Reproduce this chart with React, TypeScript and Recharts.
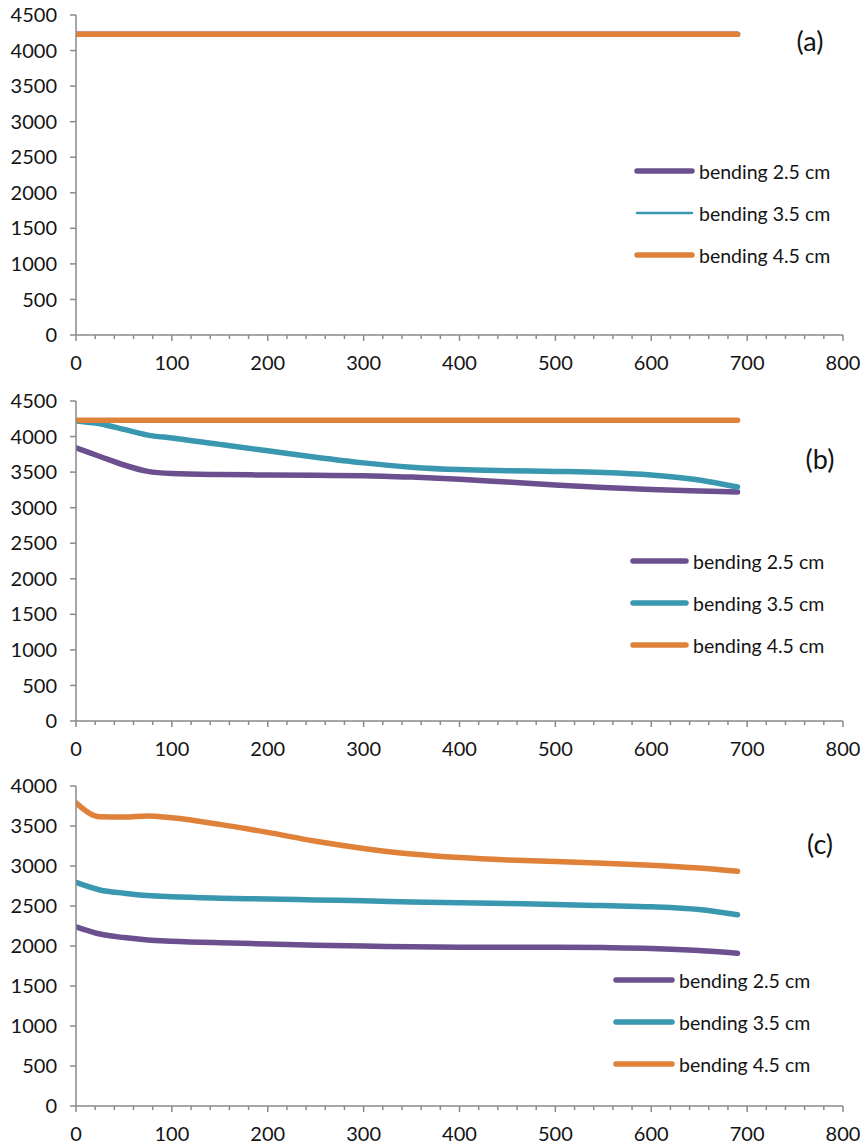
import React from 'react';
import { LineChart, Line, XAxis, YAxis, Legend } from 'recharts';

const FONT = 'Lato, "Liberation Sans", sans-serif';
const AXIS = '#8a8a8a';
const TXT = '#141414';
const PURPLE = '#6b4f8f';
const TEAL = '#3a97b0';
const ORANGE = '#df8139';
const TICK_FS = 20;
const LEG_FS = 19.5;

const seriesNames = ['bending 2.5 cm', 'bending 3.5 cm', 'bending 4.5 cm'];
const seriesColors = [PURPLE, TEAL, ORANGE];

const xTicks = [0, 20, 40, 60, 80, 100, 120, 140, 160, 180, 200, 220, 240, 260, 280, 300, 320, 340, 360, 380, 400, 420, 440, 460, 480, 500, 520, 540, 560, 580, 600, 620, 640, 660, 680, 700, 720, 740, 760, 780, 800];
const yTicksAB = [0, 500, 1000, 1500, 2000, 2500, 3000, 3500, 4000, 4500];
const yTicksC = [0, 500, 1000, 1500, 2000, 2500, 3000, 3500, 4000];

// Panel (a)
const timeA = [0, 100, 200, 300, 400, 500, 600, 690];
const aBend25 = [4230, 4230, 4230, 4230, 4230, 4230, 4230, 4230];
const aBend35 = [4230, 4230, 4230, 4230, 4230, 4230, 4230, 4230];
const aBend45 = [4230, 4230, 4230, 4230, 4230, 4230, 4230, 4230];

// Panels (b) and (c)
const timeBC = [0, 25, 50, 75, 100, 150, 200, 250, 300, 350, 400, 450, 500, 550, 600, 650, 690];
const bBend25 = [3840, 3720, 3600, 3510, 3480, 3465, 3460, 3455, 3450, 3430, 3400, 3360, 3320, 3285, 3255, 3235, 3220];
const bBend35 = [4220, 4180, 4100, 4020, 3980, 3890, 3800, 3710, 3630, 3570, 3535, 3520, 3510, 3495, 3460, 3390, 3290];
const bBend45 = [4230, 4230, 4230, 4230, 4230, 4230, 4230, 4230, 4230, 4230, 4230, 4230, 4230, 4230, 4230, 4230, 4230];

const cBend25 = [2240, 2150, 2105, 2075, 2060, 2040, 2025, 2010, 2000, 1990, 1985, 1985, 1985, 1980, 1970, 1945, 1910];
const cBend35 = [2795, 2700, 2660, 2630, 2615, 2598, 2588, 2575, 2565, 2550, 2540, 2530, 2520, 2505, 2490, 2455, 2390];
const cBend45 = [3790, 3615, 3612, 3625, 3602, 3520, 3420, 3310, 3220, 3150, 3105, 3075, 3055, 3035, 3010, 2975, 2935];

const toPoints = (xs: number[], ys: number[]) => xs.map((x, i) => ({ x, y: ys[i] }));

const XTick = (props: any) => {
  const { x, y, payload } = props;
  const v = payload.value;
  const major = v % 100 === 0;
  return (
    <g>
      <line x1={x} x2={x} y1={y} y2={y + (major ? 6 : 4)} stroke={AXIS} strokeWidth={1.5} />
      {major && (
        <text x={x} y={y + 35} textAnchor="middle" fill={TXT} fontSize={TICK_FS} fontFamily={FONT}>
          {v}
        </text>
      )}
    </g>
  );
};

const makeLegend = (lineLen: number, gap: number, widths: number[]) => (props: any) => {
  const payload = props.payload || [];
  return (
    <div style={{ fontFamily: FONT, fontSize: LEG_FS, color: TXT }}>
      {payload.map((e: any, i: number) => (
        <div key={i} style={{ display: 'flex', alignItems: 'center', height: 42, whiteSpace: 'nowrap' }}>
          <svg width={lineLen + 6} height={10} style={{ display: 'block' }}>
            <line x1={3} x2={lineLen + 3} y1={5} y2={5} stroke={e.color} strokeWidth={widths[i]} strokeLinecap="round" />
          </svg>
          <span style={{ marginLeft: gap }}>{e.value}</span>
        </div>
      ))}
    </div>
  );
};

type PanelProps = {
  height: number;
  series: { data: { x: number; y: number }[]; width: number }[];
  yMax: number;
  yTicks: number[];
  legendLeft: number;
  legendTop: number;
  lineLen: number;
  legendWidths: number[];
  label: string;
  labelX: number;
  labelY: number;
};

const Panel = (p: PanelProps) => (
  <div style={{ position: 'relative', width: 864, height: p.height }}>
    <LineChart width={864} height={p.height} margin={{ top: 15, right: 21, bottom: 0, left: 0 }}>
      <XAxis
        type="number"
        dataKey="x"
        domain={[0, 800]}
        ticks={xTicks}
        interval={0}
        allowDataOverflow
        height={p.height - 335}
        tickSize={0}
        tickMargin={0}
        tickLine={false}
        tick={<XTick />}
        axisLine={{ stroke: AXIS, strokeWidth: 1.5 }}
      />
      <YAxis
        type="number"
        domain={[0, p.yMax]}
        ticks={p.yTicks}
        interval={0}
        width={76}
        tickSize={6}
        tickMargin={13}
        tickLine={{ stroke: AXIS, strokeWidth: 1.5 }}
        axisLine={{ stroke: AXIS, strokeWidth: 1.5 }}
        tick={{ fill: TXT, fontSize: TICK_FS, fontFamily: FONT }}
      />
      {p.series.map((s, i) => (
        <Line
          key={i}
          data={s.data}
          dataKey="y"
          name={seriesNames[i]}
          type="monotone"
          stroke={seriesColors[i]}
          strokeWidth={s.width}
          strokeLinecap="round"
          dot={false}
          activeDot={false}
          isAnimationActive={false}
        />
      ))}
      <Legend
        layout="vertical"
        align="center"
        verticalAlign="middle"
        content={makeLegend(p.lineLen, 4, p.legendWidths)}
        wrapperStyle={{ left: p.legendLeft, top: p.legendTop, width: 240 }}
      />
    </LineChart>
    <div
      style={{
        position: 'absolute',
        left: p.labelX,
        top: p.labelY,
        fontFamily: FONT,
        fontSize: 27,
        color: TXT,
        lineHeight: 1,
        transform: 'translate(-50%, -50%)',
      }}
    >
      {p.label}
    </div>
  </div>
);

export default function App() {
  return (
    <div style={{ position: 'absolute', left: 0, top: 0, width: 864, height: 1148, background: '#fff', overflow: 'hidden' }}>
      <Panel
        height={386}
        series={[
          { data: toPoints(timeA, aBend25), width: 5.5 },
          { data: toPoints(timeA, aBend35), width: 2 },
          { data: toPoints(timeA, aBend45), width: 5.5 },
        ]}
        yMax={4500}
        yTicks={yTicksAB}
        legendLeft={634}
        legendTop={150}
        lineLen={55}
        legendWidths={[5.5, 2.5, 5.5]}
        label="(a)"
        labelX={810}
        labelY={40}
      />
      <Panel
        height={385}
        series={[
          { data: toPoints(timeBC, bBend25), width: 5.5 },
          { data: toPoints(timeBC, bBend35), width: 5.5 },
          { data: toPoints(timeBC, bBend45), width: 5.5 },
        ]}
        yMax={4500}
        yTicks={yTicksAB}
        legendLeft={630}
        legendTop={154}
        lineLen={53}
        legendWidths={[5.5, 5.5, 5.5]}
        label="(b)"
        labelX={820}
        labelY={72}
      />
      <Panel
        height={377}
        series={[
          { data: toPoints(timeBC, cBend25), width: 5.5 },
          { data: toPoints(timeBC, cBend35), width: 5.5 },
          { data: toPoints(timeBC, cBend45), width: 5.5 },
        ]}
        yMax={4000}
        yTicks={yTicksC}
        legendLeft={613}
        legendTop={188}
        lineLen={56}
        legendWidths={[5.5, 5.5, 5.5]}
        label="(c)"
        labelX={820}
        labelY={72}
      />
    </div>
  );
}
